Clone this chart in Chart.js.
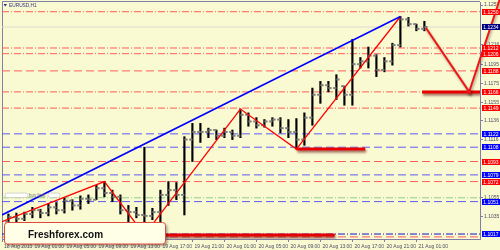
<!DOCTYPE html>
<html>
<head>
<meta charset="utf-8">
<title>EURUSD H1</title>
<script src="https://cdn.jsdelivr.net/npm/chart.js@4.4.1/dist/chart.umd.min.js"></script>
<style>
    html, body { margin: 0; padding: 0; background: #FAFAD2; overflow: hidden; }
    .chart-box { position: relative; width: 500px; height: 250px; }
</style>
</head>
<body>
<div class="chart-box"><canvas id="priceChart"></canvas></div>
<script>
// Hourly bars, hour index counted from 18 Aug 21:00
const barHours = [1, 2, 3, 4, 5, 6, 7, 8, 9, 10, 11, 12, 13, 14, 15, 16, 17, 18, 19, 20,
    21, 22, 23, 24, 25, 26, 27, 28, 29, 30, 31, 32, 33, 34, 35, 36, 37, 38, 39, 40,
    41, 42, 43, 44, 45, 46, 47, 48, 49, 50, 51, 52, 53];
const openPrices = [1.1030, 1.1035, 1.1033, 1.1038, 1.1042, 1.1039, 1.1045, 1.1042, 1.1052, 1.1047,
    1.1054, 1.1053, 1.1065, 1.1060, 1.1056, 1.1042, 1.1040, 1.1037, 1.1036, 1.1040,
    1.1058, 1.1063, 1.1058, 1.1116, 1.1124, 1.1124, 1.1126, 1.1120, 1.1124, 1.1120,
    1.1142, 1.1135, 1.1131, 1.1135, 1.1137, 1.1128, 1.1124, 1.1116, 1.1139, 1.1163,
    1.1173, 1.1170, 1.1172, 1.1163, 1.1195, 1.1198, 1.1204, 1.1189, 1.1198, 1.1215,
    1.1242, 1.1237, 1.1232];
const highPrices = [1.1038, 1.1039, 1.1040, 1.1045, 1.1043, 1.1049, 1.1050, 1.1055, 1.1053, 1.1057,
    1.1058, 1.1068, 1.1072, 1.1063, 1.1058, 1.1047, 1.1045, 1.1108, 1.1044, 1.1063,
    1.1072, 1.1071, 1.1119, 1.1133, 1.1133, 1.1128, 1.1126, 1.1128, 1.1126, 1.1148,
    1.1144, 1.1139, 1.1137, 1.1139, 1.1139, 1.1137, 1.1138, 1.1144, 1.1170, 1.1177,
    1.1177, 1.1184, 1.1172, 1.1221, 1.1202, 1.1213, 1.1205, 1.1202, 1.1217, 1.1245,
    1.1244, 1.1237, 1.1240];
const lowPrices = [1.1028, 1.1030, 1.1031, 1.1034, 1.1034, 1.1036, 1.1038, 1.1039, 1.1042, 1.1043,
    1.1049, 1.1053, 1.1056, 1.1051, 1.1038, 1.1030, 1.1034, 1.1016, 1.1032, 1.1030,
    1.1047, 1.1053, 1.1037, 1.1093, 1.1113, 1.1118, 1.1116, 1.1118, 1.1116, 1.1118,
    1.1130, 1.1128, 1.1129, 1.1130, 1.1123, 1.1118, 1.1106, 1.1110, 1.1131, 1.1154,
    1.1166, 1.1158, 1.1152, 1.1152, 1.1191, 1.1191, 1.1182, 1.1187, 1.1194, 1.1213,
    1.1235, 1.1230, 1.1230];
const closePrices = [1.1035, 1.1033, 1.1038, 1.1042, 1.1039, 1.1045, 1.1042, 1.1052, 1.1047, 1.1054,
    1.1053, 1.1065, 1.1060, 1.1056, 1.1042, 1.1040, 1.1037, 1.1036, 1.1040, 1.1058,
    1.1063, 1.1058, 1.1116, 1.1124, 1.1124, 1.1126, 1.1120, 1.1124, 1.1120, 1.1142,
    1.1135, 1.1131, 1.1135, 1.1137, 1.1128, 1.1124, 1.1116, 1.1139, 1.1163, 1.1173,
    1.1170, 1.1179, 1.1163, 1.1195, 1.1198, 1.1204, 1.1189, 1.1198, 1.1215, 1.1242,
    1.1237, 1.1232, 1.1234];

// Time axis
const timeTickHours = [0, 4, 8, 12, 16, 20, 24, 28, 32, 36, 40, 44, 48, 52];
const timeTickLabels = ['18 Aug 2015', '19 Aug 01:00', '19 Aug 05:00', '19 Aug 09:00', '19 Aug 13:00',
    '19 Aug 17:00', '19 Aug 21:00', '20 Aug 01:00', '20 Aug 05:00', '20 Aug 09:00',
    '20 Aug 13:00', '20 Aug 17:00', '20 Aug 21:00', '21 Aug 01:00'];

// Price axis
const priceTicks = [1.1257, 1.1216, 1.1195, 1.1175, 1.1155, 1.1136, 1.1116, 1.1055, 1.1035];

// Horizontal levels
const redDashDotLevels = [1.1250, 1.1212, 1.1206, 1.1166, 1.1149];
const redDashLevels = [1.1188, 1.1093, 1.1072];
const redDashUnlabeled = [1.1014];
const blueDashLevels = [1.1122, 1.1108, 1.1079, 1.1051];
const blueDashDotLevels = [1.1017];
const buyLimitLevel = 1.1055;
const bidPrice = 1.1234;

// Drawn objects (hour, price)
const trendHours = [0.2, 50];
const trendPrices = [1.1037, 1.1245];
const zigzagHours = [0.2, 13, 18, 30, 37, 50];
const zigzagPrices = [1.1030, 1.1072, 1.1016, 1.1148, 1.1106, 1.1245];
const supportLowHours = [18.4, 41.8];
const supportLowPrice = 1.1016;
const supportMidHours = [37, 45.6];
const supportMidPrice = 1.1106;
const targetHours = [52.7, 59.95];
const targetPrice = 1.1166;
const arrowHours = [53.2, 58.6, 62.5];
const arrowPrices = [1.1233, 1.1166, 1.1265];

const X_MIN = 0.2, X_MAX = 59.95;
const Y_MIN = 1.10118, Y_MAX = 1.12602;

const FONT = "'Liberation Sans', Arial, sans-serif";
const FRAME = '#7f7fa8';
const TEXT = '#4c4c68';
const DASH = [8, 4];
const DASH_DOT = [7, 2, 1, 2];

function levelSet(values, color, dash) {
    return values.map(v => ({
        type: 'line',
        data: [{x: X_MIN, y: v}, {x: X_MAX, y: v}],
        borderColor: color,
        borderWidth: 1,
        borderDash: dash,
        pointRadius: 0,
        order: 6
    }));
}

function segment(hours, prices, color, width, extra) {
    return Object.assign({
        type: 'line',
        data: hours.map((h, i) => ({x: h, y: Array.isArray(prices) ? prices[i] : prices})),
        borderColor: color,
        borderWidth: width,
        pointRadius: 0,
        tension: 0
    }, extra || {});
}

// Shadow under some drawn objects
const shadowPlugin = {
    id: 'shadow',
    beforeDatasetDraw(chart, args) {
        const ds = chart.data.datasets[args.index];
        if (!ds.shadow) return;
        const ctx = chart.ctx;
        ctx.save();
        ctx.shadowColor = ds.shadow;
        ctx.shadowBlur = 2.5;
        ctx.shadowOffsetX = 1;
        ctx.shadowOffsetY = 2;
    },
    afterDatasetDraw(chart, args) {
        if (chart.data.datasets[args.index].shadow) chart.ctx.restore();
    }
};

const backdropPlugin = {
    id: 'backdrop',
    beforeDraw(chart) {
        const ctx = chart.ctx, a = chart.chartArea;
        ctx.save();
        ctx.fillStyle = '#FAFAD2';
        ctx.fillRect(0, 0, chart.width, chart.height);
        ctx.strokeStyle = FRAME;
        ctx.lineWidth = 1;
        ctx.beginPath();
        ctx.moveTo(a.left + 0.5, a.bottom);
        ctx.lineTo(a.left + 0.5, a.top - 0.5);
        ctx.lineTo(a.right, a.top - 0.5);
        ctx.stroke();
        ctx.restore();
    }
};

const labelGroups = [
    {values: redDashDotLevels, fill: '#FF0000'},
    {values: redDashLevels, fill: '#FF0000'},
    {values: blueDashLevels, fill: '#0000FF'},
    {values: blueDashDotLevels, fill: '#0000FF'},
    {values: [bidPrice], fill: '#000080'}
];

const overlayPlugin = {
    id: 'overlay',
    afterDraw(chart) {
        const ctx = chart.ctx, y = chart.scales.y, a = chart.chartArea;
        ctx.save();

        // price boxes on the right axis
        ctx.font = '5px ' + FONT;
        ctx.textAlign = 'center';
        ctx.textBaseline = 'middle';
        labelGroups.forEach(g => g.values.forEach(v => {
            const py = Math.round(y.getPixelForValue(v));
            ctx.fillStyle = g.fill;
            ctx.fillRect(a.right + 2, py - 3, 18, 6);
            ctx.fillStyle = '#ffffff';
            ctx.fillText(v.toFixed(4), a.right + 11, py + 0.3);
        }));

        // symbol title
        ctx.fillStyle = '#34347a';
        ctx.beginPath();
        ctx.moveTo(3.5, 4);
        ctx.lineTo(7, 4);
        ctx.lineTo(5.25, 6.5);
        ctx.fill();
        ctx.textAlign = 'left';
        ctx.font = '4.8px ' + FONT;
        ctx.fillText('EURUSD,H1', 9, 5.5);

        // pending order tag
        const gy = y.getPixelForValue(buyLimitLevel) - 2.5;
        ctx.fillStyle = '#ffffff';
        ctx.strokeStyle = '#c9c9c0';
        ctx.lineWidth = 0.8;
        ctx.beginPath(); ctx.roundRect(5, gy - 2.2, 23, 4.4, 2); ctx.fill(); ctx.stroke();
        ctx.beginPath(); ctx.roundRect(48, gy - 2.2, 12, 4.4, 2); ctx.fill(); ctx.stroke();
        ctx.fillStyle = '#6f6f6f';
        ctx.font = '4.5px ' + FONT;
        ctx.fillText('buy limit', 29, gy + 0.2);

        // watermark box
        ctx.save();
        ctx.shadowColor = 'rgba(0,0,0,0.35)';
        ctx.shadowBlur = 3;
        ctx.shadowOffsetX = 2;
        ctx.shadowOffsetY = 2;
        ctx.fillStyle = '#FFFFE8';
        ctx.beginPath(); ctx.roundRect(4.5, 222.5, 161, 21.5, 3); ctx.fill();
        ctx.restore();
        ctx.strokeStyle = '#E0483C';
        ctx.lineWidth = 1;
        ctx.beginPath(); ctx.roundRect(4.5, 222.5, 161, 21.5, 3); ctx.stroke();
        ctx.fillStyle = '#111111';
        ctx.font = 'bold 10px ' + FONT;
        ctx.textBaseline = 'alphabetic';
        ctx.fillText('Freshforex.com', 28, 237.5);

        ctx.restore();
    }
};

function initializeChart() {
    const ctx = document.getElementById('priceChart');
    if (!ctx) return;

    const datasets = [
        // arrow towards the target
        segment(arrowHours, arrowPrices, '#F21414', 2, {
            order: 0, clip: false, shadow: 'rgba(0,0,0,0.35)',
            pointRadius: [0, 3.5, 0], pointStyle: 'triangle', pointRotation: 145,
            pointBackgroundColor: '#F21414', pointBorderWidth: 0
        }),
        segment(trendHours, trendPrices, '#0000FF', 1.5, {order: 1}),
        segment(zigzagHours, zigzagPrices, '#FF0000', 1.3, {order: 1}),
        segment(supportLowHours, supportLowPrice, '#E60000', 3, {order: 2, shadow: 'rgba(90,0,0,0.6)'}),
        segment(supportMidHours, supportMidPrice, '#E60000', 3, {order: 2, shadow: 'rgba(90,0,0,0.6)'}),
        segment(targetHours, targetPrice, '#E60000', 3, {order: 2, shadow: 'rgba(90,0,0,0.6)'}),
        // open / close ticks
        {
            type: 'line', showLine: false, order: 3,
            data: barHours.map((h, i) => ({x: h - 0.2, y: openPrices[i]})),
            pointStyle: 'line', pointRadius: 1.6, pointBorderWidth: 2, pointBorderColor: '#7d7d7d'
        },
        {
            type: 'line', showLine: false, order: 3,
            data: barHours.map((h, i) => ({x: h + 0.2, y: closePrices[i]})),
            pointStyle: 'line', pointRadius: 1.6, pointBorderWidth: 2, pointBorderColor: '#7d7d7d'
        },
        // high-low bars
        {
            type: 'bar', order: 4, grouped: false,
            data: barHours.map((h, i) => ({x: h, y: [lowPrices[i], highPrices[i]]})),
            backgroundColor: '#000000', barThickness: 1.5
        },
        ...levelSet([bidPrice], '#dcdccc', []),
        ...levelSet(redDashDotLevels, '#FF5C5C', DASH_DOT),
        ...levelSet(redDashLevels, '#FF5C5C', DASH),
        ...levelSet(redDashUnlabeled, '#FF5C5C', DASH),
        ...levelSet(blueDashLevels, '#5C5CF0', DASH),
        ...levelSet(blueDashDotLevels, '#1010D0', DASH_DOT),
        ...levelSet([buyLimitLevel], '#8CCF8C', DASH_DOT)
    ];

    new Chart(ctx, {
        type: 'bar',
        data: {datasets: datasets},
        options: {
            responsive: true,
            maintainAspectRatio: false,
            animation: false,
            events: [],
            layout: {padding: {left: 2, top: 2, right: 0, bottom: 0}, autoPadding: false},
            plugins: {legend: {display: false}, tooltip: {enabled: false}},
            scales: {
                x: {
                    type: 'linear',
                    min: X_MIN,
                    max: X_MAX,
                    offset: false,
                    afterBuildTicks: s => { s.ticks = timeTickHours.map(h => ({value: Math.max(h, s.min)})); },
                    afterFit: s => { s.height = 11; s.paddingLeft = 0; s.paddingRight = 0; },
                    ticks: {
                        autoSkip: false, maxRotation: 0, minRotation: 0,
                        align: 'start', labelOffset: 2, padding: 2,
                        color: TEXT, font: {family: FONT, size: 5},
                        callback: (v, i) => timeTickLabels[i]
                    },
                    grid: {drawOnChartArea: false, offset: false, tickLength: 3, color: FRAME},
                    border: {color: FRAME, width: 1}
                },
                y: {
                    type: 'linear',
                    position: 'right',
                    min: Y_MIN,
                    max: Y_MAX,
                    afterBuildTicks: s => { s.ticks = priceTicks.map(v => ({value: v})); },
                    afterFit: s => { s.width = 20; s.paddingTop = 0; s.paddingBottom = 0; },
                    ticks: {
                        autoSkip: false, padding: 1,
                        color: TEXT, font: {family: FONT, size: 5},
                        callback: v => Number(v).toFixed(4)
                    },
                    grid: {drawOnChartArea: false, tickLength: 3, color: FRAME},
                    border: {color: FRAME, width: 1}
                }
            }
        },
        plugins: [backdropPlugin, shadowPlugin, overlayPlugin]
    });
}

document.addEventListener('DOMContentLoaded', initializeChart);
</script>
</body>
</html>
